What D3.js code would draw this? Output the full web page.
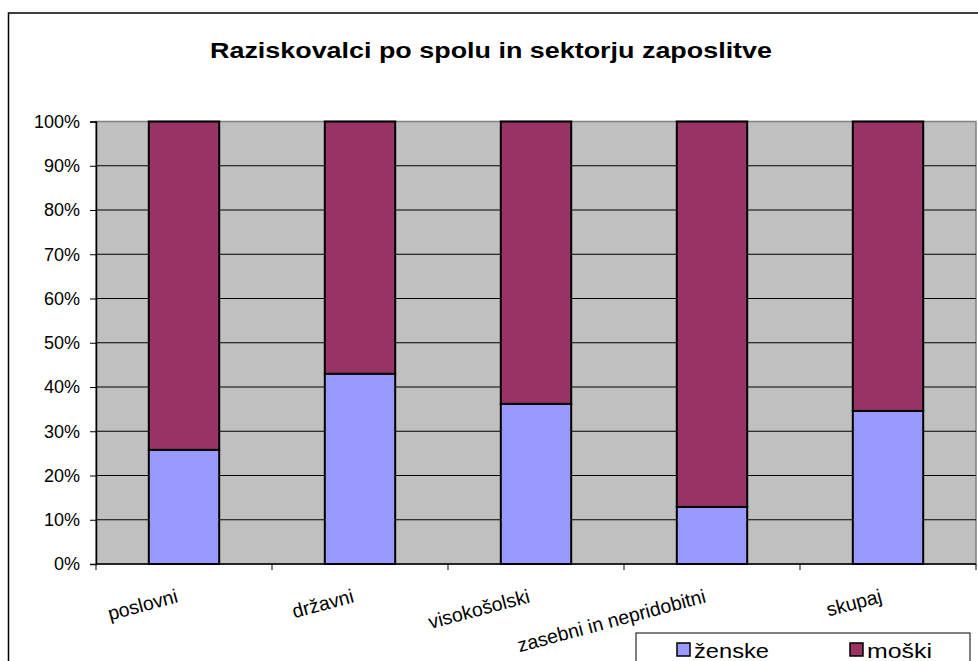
<!DOCTYPE html>
<html>
<head>
<meta charset="utf-8">
<script src="https://cdn.jsdelivr.net/npm/d3@7"></script>
<style>
  body { margin: 0; background: #fff; }
  text { font-family: Arial, "Liberation Sans", sans-serif; }
</style>
</head>
<body>
<div id="chart"></div>
<script>
  // data
  var categories = ['poslovni', 'državni', 'visokošolski', 'zasebni in nepridobitni', 'skupaj'];
  var zenske = [25.8, 43.0, 36.2, 12.9, 34.6];
  var moski = [74.2, 57.0, 63.8, 87.1, 65.4];
  var yTicks = [0, 10, 20, 30, 40, 50, 60, 70, 80, 90, 100];
  var seriesNames = ['ženske', 'moški'];
  var seriesColors = ['#9999FF', '#993366'];

  var width = 978, height = 661;
  var plot = { left: 96, top: 121.5, right: 976, bottom: 564 };

  var svg = d3.select('#chart').append('svg')
    .attr('width', width)
    .attr('height', height);

  // outer chart frame (cropped at right/bottom)
  svg.append('rect')
    .attr('x', 8.5).attr('y', 13)
    .attr('width', 1000).attr('height', 700)
    .attr('fill', '#fff')
    .attr('stroke', '#000')
    .attr('stroke-width', 1.5);

  svg.append('text')
    .attr('x', 491).attr('y', 58)
    .attr('text-anchor', 'middle')
    .attr('font-size', 22)
    .attr('font-weight', 'bold')
    .attr('textLength', 562)
    .attr('lengthAdjust', 'spacingAndGlyphs')
    .text('Raziskovalci po spolu in sektorju zaposlitve');

  var x = d3.scaleBand()
    .domain(categories)
    .range([plot.left, plot.right])
    .paddingInner(0.6)
    .paddingOuter(0.3);

  var y = d3.scaleLinear()
    .domain([0, 100])
    .range([plot.bottom, plot.top]);

  // plot background
  svg.append('rect')
    .attr('x', plot.left).attr('y', plot.top)
    .attr('width', plot.right - plot.left)
    .attr('height', plot.bottom - plot.top)
    .attr('fill', '#C0C0C0')
    .attr('stroke', '#808080')
    .attr('stroke-width', 1.5);

  // gridlines
  svg.append('g')
    .selectAll('line')
    .data(yTicks.slice(1, -1))
    .enter()
    .append('line')
    .attr('x1', plot.left).attr('x2', plot.right)
    .attr('y1', function (d) { return y(d); })
    .attr('y2', function (d) { return y(d); })
    .attr('stroke', '#000')
    .attr('stroke-width', 1);

  // stacked bars
  var stackData = categories.map(function (c, i) {
    return { cat: c, zenske: zenske[i], moski: moski[i] };
  });
  var stack = d3.stack().keys(['zenske', 'moski'])(stackData);

  svg.append('g')
    .selectAll('g')
    .data(stack)
    .enter()
    .append('g')
    .attr('fill', function (d, i) { return seriesColors[i]; })
    .selectAll('rect')
    .data(function (d) { return d; })
    .enter()
    .append('rect')
    .attr('x', function (d) { return x(d.data.cat); })
    .attr('width', x.bandwidth())
    .attr('y', function (d) { return y(d[1]); })
    .attr('height', function (d) { return y(d[0]) - y(d[1]); })
    .attr('stroke', '#000')
    .attr('stroke-width', 2);

  // y axis
  var yAxis = svg.append('g')
    .attr('transform', 'translate(' + plot.left + ',0)')
    .call(d3.axisLeft(y)
      .tickValues(yTicks)
      .tickSize(6)
      .tickPadding(10)
      .tickFormat(function (d) { return d + '%'; }));
  yAxis.select('.domain').attr('stroke', '#000').attr('stroke-width', 1.5);
  yAxis.selectAll('.tick line').attr('stroke', '#000');
  yAxis.selectAll('text')
    .attr('font-size', 18)
    .attr('fill', '#000')
    .style('font-family', 'Arial, "Liberation Sans", sans-serif');

  // x axis line and category boundary ticks
  var boundaries = d3.range(categories.length + 1).map(function (i) {
    return plot.left + i * (plot.right - plot.left) / categories.length;
  });
  svg.append('line')
    .attr('x1', plot.left).attr('x2', plot.right)
    .attr('y1', plot.bottom).attr('y2', plot.bottom)
    .attr('stroke', '#000').attr('stroke-width', 1.5);
  svg.append('g')
    .selectAll('line')
    .data(boundaries)
    .enter()
    .append('line')
    .attr('x1', function (d) { return d; })
    .attr('x2', function (d) { return d; })
    .attr('y1', plot.bottom)
    .attr('y2', plot.bottom + 6)
    .attr('stroke', '#000');

  // rotated category labels
  svg.append('g')
    .selectAll('text')
    .data(categories)
    .enter()
    .append('text')
    .attr('transform', function (d) {
      var cx = x(d) + x.bandwidth() / 2 - 5;
      return 'translate(' + cx + ',602) rotate(-15)';
    })
    .attr('text-anchor', 'end')
    .attr('font-size', 19.5)
    .text(function (d) { return d; });

  // legend (box runs past the bottom edge, as in the reference)
  var legend = svg.append('g');
  legend.append('rect')
    .attr('x', 636).attr('y', 633)
    .attr('width', 334).attr('height', 60)
    .attr('fill', '#fff')
    .attr('stroke', '#000')
    .attr('stroke-width', 1);
  var legendX = [677, 850];
  var legendW = [75, 65];
  var items = legend.selectAll('g.item')
    .data(seriesNames)
    .enter()
    .append('g')
    .attr('class', 'item')
    .attr('transform', function (d, i) { return 'translate(' + legendX[i] + ',643)'; });
  items.append('rect')
    .attr('width', 13).attr('height', 13)
    .attr('fill', function (d, i) { return seriesColors[i]; })
    .attr('stroke', '#000')
    .attr('stroke-width', 1.5);
  items.append('text')
    .attr('x', 17).attr('y', 15)
    .attr('font-size', 20)
    .attr('textLength', function (d, i) { return legendW[i]; })
    .attr('lengthAdjust', 'spacingAndGlyphs')
    .text(function (d) { return d; });
</script>
</body>
</html>
